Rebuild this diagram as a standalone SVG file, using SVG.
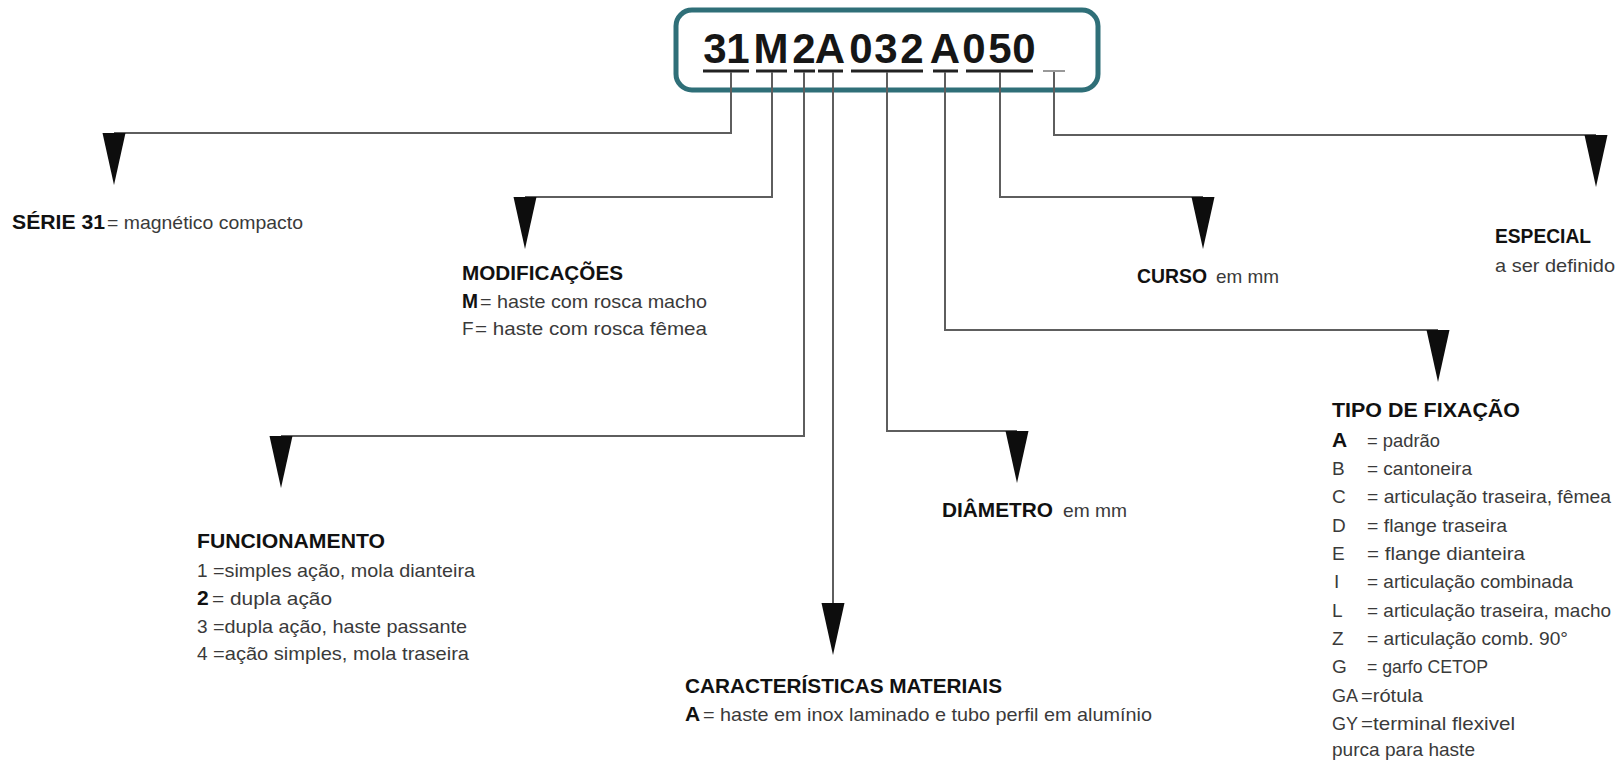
<svg xmlns="http://www.w3.org/2000/svg" xmlns:xlink="http://www.w3.org/1999/xlink" width="1621" height="762" viewBox="0 0 1621 762">
<style>
.t{font-family:"Liberation Sans",Arial,sans-serif;font-weight:bold;font-size:21px;fill:#111}
.b{font-family:"Liberation Sans",Arial,sans-serif;font-size:19px;fill:#3a3a3a}
.code{font-family:"Liberation Sans",Arial,sans-serif;font-weight:bold;font-size:42px;fill:#161616}
.ln{fill:none;stroke:#5e5e5e;stroke-width:2}
.ul{stroke:#222;stroke-width:3}
</style>
<defs>
<path id="arr" d="M-11.5,0 L11.5,0 L0,52 Z" fill="#0d0d0d"/>
</defs>
<rect width="1621" height="762" fill="#fff"/>

<g id="code-box">
<rect x="676" y="10" width="422" height="80" rx="16" ry="16" fill="#fff" stroke="#2f6f78" stroke-width="5"/>
<text class="code" text-anchor="middle" x="715 738 771 804 830 861 886 912 945 974 1000 1024" y="63">31M2A032A050</text>
<line class="ul" x1="703" y1="71" x2="749" y2="71"/>
<line class="ul" x1="756" y1="71" x2="787" y2="71"/>
<line class="ul" x1="794" y1="71" x2="815" y2="71"/>
<line class="ul" x1="818" y1="71" x2="843" y2="71"/>
<line class="ul" x1="851" y1="71" x2="923" y2="71"/>
<line class="ul" x1="933" y1="71" x2="958" y2="71"/>
<line class="ul" x1="966" y1="71" x2="1033" y2="71"/>
<line x1="1043" y1="71" x2="1065" y2="71" stroke="#999" stroke-width="2"/>
</g>

<g id="connectors">
<path class="ln" d="M731,72 V133 H114"/>
<path class="ln" d="M772,72 V197 H525"/>
<path class="ln" d="M804,72 V436 H281"/>
<path class="ln" d="M833,72 V603"/>
<path class="ln" d="M887,72 V431 H1017"/>
<path class="ln" d="M945,72 V330 H1438"/>
<path class="ln" d="M1000,72 V197 H1203"/>
<path class="ln" d="M1054,72 V135 H1596"/>
<use xlink:href="#arr" x="114" y="133"/>
<use xlink:href="#arr" x="525" y="197"/>
<use xlink:href="#arr" x="281" y="436"/>
<use xlink:href="#arr" x="833" y="603"/>
<use xlink:href="#arr" x="1017" y="431"/>
<use xlink:href="#arr" x="1438" y="330"/>
<use xlink:href="#arr" x="1203" y="197"/>
<use xlink:href="#arr" x="1596" y="135"/>
</g>

<g id="serie">
<text class="t" x="12" y="229" textLength="93" lengthAdjust="spacingAndGlyphs">SÉRIE 31</text>
<text class="b" x="107" y="229" textLength="196" lengthAdjust="spacingAndGlyphs">= magnético compacto</text>
</g>

<g id="modificacoes">
<text class="t" x="462" y="280" textLength="161" lengthAdjust="spacingAndGlyphs">MODIFICAÇÕES</text>
<text class="t" x="462" y="308" textLength="16" lengthAdjust="spacingAndGlyphs">M</text>
<text class="b" x="480" y="308" textLength="227" lengthAdjust="spacingAndGlyphs">= haste com rosca macho</text>
<text class="b" x="462" y="335">F</text>
<text class="b" x="475" y="335" textLength="232" lengthAdjust="spacingAndGlyphs">= haste com rosca fêmea</text>
</g>

<g id="funcionamento">
<text class="t" x="197" y="548" textLength="188" lengthAdjust="spacingAndGlyphs">FUNCIONAMENTO</text>
<text class="b" x="197" y="577">1</text>
<text class="b" x="213" y="577" textLength="262" lengthAdjust="spacingAndGlyphs">=simples ação, mola dianteira</text>
<text class="t" x="197" y="605">2</text>
<text class="b" x="212" y="605" textLength="120" lengthAdjust="spacingAndGlyphs">= dupla ação</text>
<text class="b" x="197" y="633">3</text>
<text class="b" x="213" y="633" textLength="254" lengthAdjust="spacingAndGlyphs">=dupla ação, haste passante</text>
<text class="b" x="197" y="660">4</text>
<text class="b" x="213" y="660" textLength="256" lengthAdjust="spacingAndGlyphs">=ação simples, mola traseira</text>
</g>

<g id="caracteristicas">
<text class="t" x="685" y="693" textLength="317" lengthAdjust="spacingAndGlyphs">CARACTERÍSTICAS MATERIAIS</text>
<text class="t" x="685" y="721">A</text>
<text class="b" x="703" y="721" textLength="449" lengthAdjust="spacingAndGlyphs">= haste em inox laminado e tubo perfil em alumínio</text>
</g>

<g id="diametro">
<text class="t" x="942" y="517" textLength="111" lengthAdjust="spacingAndGlyphs">DIÂMETRO</text>
<text class="b" x="1063" y="517" textLength="64" lengthAdjust="spacingAndGlyphs">em mm</text>
</g>

<g id="curso">
<text class="t" x="1137" y="283" textLength="70" lengthAdjust="spacingAndGlyphs">CURSO</text>
<text class="b" x="1216" y="283" textLength="63" lengthAdjust="spacingAndGlyphs">em mm</text>
</g>

<g id="especial">
<text class="t" x="1495" y="243" textLength="96" lengthAdjust="spacingAndGlyphs">ESPECIAL</text>
<text class="b" x="1495" y="272" textLength="120" lengthAdjust="spacingAndGlyphs">a ser definido</text>
</g>

<g id="tipo-fixacao">
<text class="t" x="1332" y="417" textLength="188" lengthAdjust="spacingAndGlyphs">TIPO DE FIXAÇÃO</text>
<text class="t" x="1332" y="447">A</text>
<text class="b" x="1367" y="447" textLength="73" lengthAdjust="spacingAndGlyphs">= padrão</text>
<text class="b" x="1332" y="475">B</text>
<text class="b" x="1367" y="475" textLength="105" lengthAdjust="spacingAndGlyphs">= cantoneira</text>
<text class="b" x="1332" y="503">C</text>
<text class="b" x="1367" y="503" textLength="244" lengthAdjust="spacingAndGlyphs">= articulação traseira, fêmea</text>
<text class="b" x="1332" y="532">D</text>
<text class="b" x="1367" y="532" textLength="140" lengthAdjust="spacingAndGlyphs">= flange traseira</text>
<text class="b" x="1332" y="560">E</text>
<text class="b" x="1367" y="560" textLength="158" lengthAdjust="spacingAndGlyphs">=  flange dianteira</text>
<text class="b" x="1334" y="588">I</text>
<text class="b" x="1367" y="588" textLength="206" lengthAdjust="spacingAndGlyphs">= articulação combinada</text>
<text class="b" x="1332" y="617">L</text>
<text class="b" x="1367" y="617" textLength="244" lengthAdjust="spacingAndGlyphs">= articulação traseira, macho</text>
<text class="b" x="1332" y="645">Z</text>
<text class="b" x="1367" y="645" textLength="201" lengthAdjust="spacingAndGlyphs">= articulação comb. 90°</text>
<text class="b" x="1332" y="673">G</text>
<text class="b" x="1367" y="673" textLength="121" lengthAdjust="spacingAndGlyphs">= garfo CETOP</text>
<text class="b" x="1332" y="702" style="font-size:18px">GA</text>
<text class="b" x="1361" y="702" textLength="62" lengthAdjust="spacingAndGlyphs">=rótula</text>
<text class="b" x="1332" y="730" style="font-size:18px">GY</text>
<text class="b" x="1361" y="730" textLength="154" lengthAdjust="spacingAndGlyphs">=terminal flexivel</text>
<text class="b" x="1332" y="756" textLength="143" lengthAdjust="spacingAndGlyphs">purca para haste</text>
</g>
</svg>
